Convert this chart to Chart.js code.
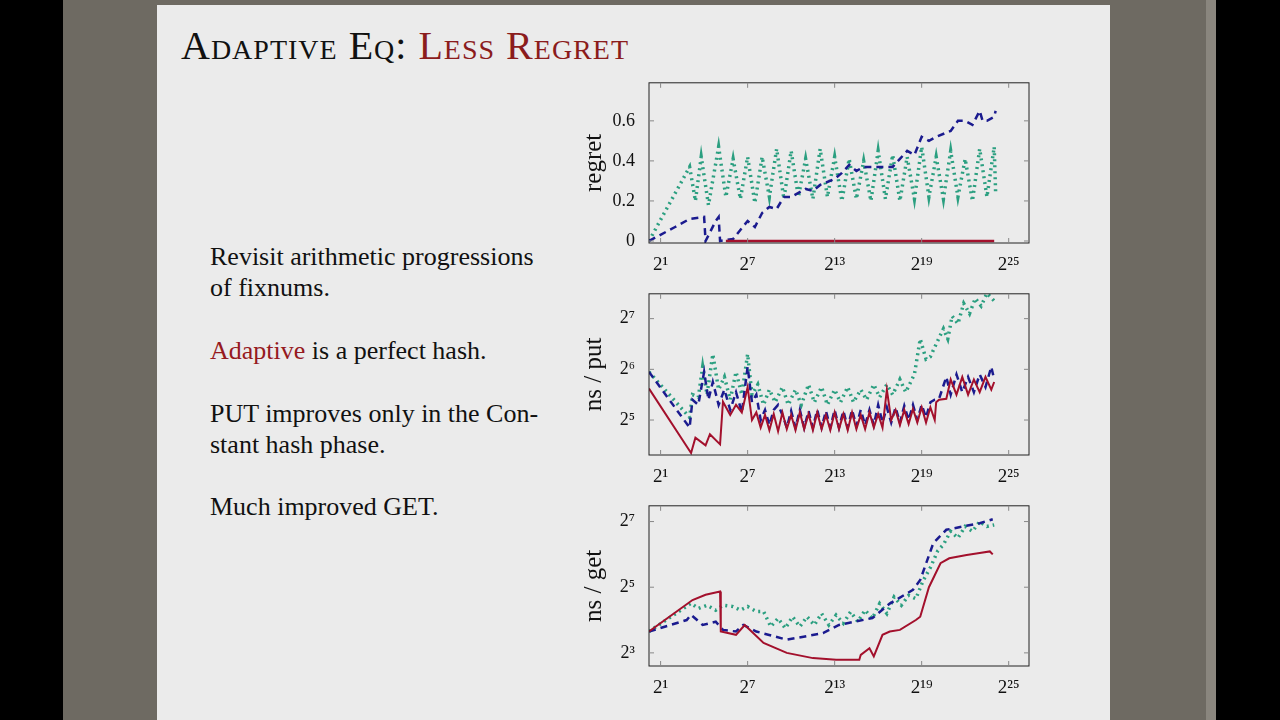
<!DOCTYPE html>
<html>
<head>
<meta charset="utf-8">
<script src="https://cdn.jsdelivr.net/npm/chart.js@4"></script>
<style>
  body { margin:0; width:1280px; height:720px; background:#000; position:relative; overflow:hidden; font-family:"Liberation Serif", serif; }
  #side { position:absolute; left:63px; top:0; width:1143px; height:720px; background:#6e6a62; }
  #bar { position:absolute; left:1206px; top:0; width:10px; height:720px; background:#8a867e; }
  #slide { position:absolute; left:157px; top:5px; width:953px; height:715px; background:#ebebeb; }
  .t { position:absolute; color:#111; font-size:26px; white-space:nowrap; }
  .red { color:#961a1f; }
  #title { position:absolute; left:181px; top:22px; font-size:40px; letter-spacing:1px; font-variant:small-caps; color:#111; }
  #title .red { color:#8b1c1c; }
  canvas { position:absolute; }
</style>
</head>
<body>
<div id="side"></div><div id="bar"></div><div id="slide"></div>
<div id="title">Adaptive Eq: <span class="red">Less Regret</span></div>
<div class="t" style="left:210px;top:242px">Revisit arithmetic progressions</div>
<div class="t" style="left:210px;top:273px">of fixnums.</div>
<div class="t" style="left:210px;top:336px"><span class="red">Adaptive</span> is a perfect hash.</div>
<div class="t" style="left:210px;top:399px">PUT improves only in the Con-</div>
<div class="t" style="left:210px;top:430px">stant hash phase.</div>
<div class="t" style="left:210px;top:492px">Much improved GET.</div>
<canvas id="c1" style="left:579px;top:66px;width:460px;height:207px"></canvas>
<canvas id="c2" style="left:579px;top:277px;width:460px;height:208px"></canvas>
<canvas id="c3" style="left:579px;top:489px;width:460px;height:207px"></canvas>
<script>
const xTicks = [1, 7, 13, 19, 25];
const sup = {'0':'⁰','1':'¹','2':'²','3':'³','4':'⁴','5':'⁵','6':'⁶','7':'⁷','8':'⁸','9':'⁹'};
const pow2 = v => '2' + String(v).split('').map(c => sup[c]).join('');

// regret chart
const regTealX = [0.2,3,3.4,3.8,4.3,5,5.5,6,6.5,7,7.5,8,8.5,9,9.5,10,10.5,11,11.5,12,12.5,13,13.5,14,14.5,15,15.5,16,16.5,17,17.5,18,18.5,19,19.5,20,20.5,21,21.5,22,22.5,23,23.5,24,24.1];
const regTealY = [0,0.37,0.2,0.42,0.18,0.47,0.22,0.41,0.21,0.42,0.19,0.42,0.22,0.46,0.21,0.45,0.22,0.41,0.21,0.46,0.22,0.42,0.2,0.41,0.21,0.40,0.2,0.45,0.21,0.43,0.2,0.42,0.21,0.47,0.22,0.42,0.21,0.45,0.22,0.41,0.2,0.46,0.22,0.47,0.24];
const regBlueX = [0.2,2,3,4,4.1,4.8,5,5.1,6,7,7.5,8,8.5,9,9.5,10,11,11.5,12,13,13.5,14,14.5,15,16,17,17.5,18,18.5,19,19.5,20,21,21.5,22,22.5,23,23.2,23.5,24,24.1];
const regBlueY = [0,0.07,0.11,0.12,0,0.1,0.12,0,0.01,0.1,0.07,0.14,0.17,0.16,0.22,0.22,0.26,0.25,0.28,0.31,0.34,0.38,0.35,0.37,0.37,0.37,0.41,0.45,0.43,0.52,0.50,0.52,0.55,0.6,0.6,0.58,0.65,0.6,0.6,0.62,0.65];
const regRedX = [5.5, 24];
const regRedY = [0, 0];

// ns / put chart (log2 values)
const putRedX = [0.2,3.1,3.4,4.1,4.4,5.1,5.3,5.8,6.2,6.6,7.0,7.3,7.6,7.9,8.2,8.5,8.8,9.1,9.4,9.7,10.0,10.3,10.6,10.9,11.2,11.5,11.8,12.1,12.4,12.7,13.0,13.3,13.6,13.9,14.2,14.5,14.8,15.1,15.4,15.7,16.0,16.3,16.6,16.9,17.2,17.5,17.8,18.1,18.4,18.7,19.0,19.3,19.6,19.9,20.0,20.2,20.7,21.0,21.4,21.8,22.2,22.6,23.0,23.4,23.8,24.0];
const putRedY = [5.62,4.35,4.65,4.5,4.72,4.52,5.36,5.1,5.3,5.15,5.65,5.0,5.15,4.85,5.1,4.8,5.12,4.78,5.15,4.82,5.1,4.8,5.15,4.82,5.12,4.8,5.15,4.82,5.1,4.8,5.15,4.82,5.12,4.8,5.15,4.82,5.1,4.82,5.15,4.85,5.12,4.85,5.6,5.0,5.2,4.9,5.2,4.92,5.22,4.95,5.25,4.95,5.25,5.0,5.35,5.4,5.42,5.8,5.5,5.85,5.5,5.8,5.55,5.85,5.6,5.75];
const putBlueX = [0.2,3.0,3.2,3.6,4.0,4.3,4.6,5.0,5.4,5.8,6.2,6.6,7.0,7.3,7.6,7.9,8.2,8.5,8.8,9.1,9.4,9.7,10.0,10.3,10.6,10.9,11.2,11.5,11.8,12.1,12.4,12.7,13.0,13.3,13.6,13.9,14.2,14.5,14.8,15.1,15.4,15.7,16.0,16.3,16.6,16.9,17.2,17.5,17.8,18.1,18.4,18.7,19.0,19.3,19.6,19.9,20.2,20.7,21.0,21.4,21.8,22.2,22.6,23.0,23.4,23.8,24.0];
const putBlueY = [5.95,4.85,5.4,5.3,5.95,5.4,5.75,5.3,5.6,5.2,5.55,5.15,6.05,5.35,5.5,5.0,5.2,4.9,5.2,5.3,5.1,4.85,5.18,4.85,5.2,4.85,5.18,4.85,5.2,4.85,5.18,4.85,5.2,4.85,5.18,4.85,5.2,4.88,5.2,4.9,5.2,4.9,5.3,4.95,5.25,4.95,5.25,4.95,5.28,5.0,5.3,5.0,5.3,5.05,5.35,5.4,5.42,5.85,5.5,5.9,5.55,5.85,5.55,5.9,5.65,6.05,5.8];
const putTealX = [0.2,3.0,3.2,3.6,3.9,4.2,4.6,5.0,5.4,5.8,6.2,6.6,7.0,7.3,7.7,8.1,8.5,8.9,9.4,9.8,10.3,10.7,11.2,11.6,12.1,12.5,13.0,13.4,13.9,14.3,14.8,15.2,15.7,16.1,16.6,17.0,17.5,17.9,18.5,18.9,19.3,19.6,20.0,20.5,20.8,21.1,21.5,21.9,22.3,22.7,23.1,23.5,24.0];
const putTealY = [5.95,5.05,5.5,5.45,6.05,5.5,6.3,5.6,5.85,5.4,5.95,5.5,6.3,5.5,5.7,5.3,5.6,5.35,5.65,5.3,5.6,5.3,5.7,5.35,5.65,5.3,5.6,5.35,5.65,5.35,5.6,5.4,5.7,5.45,5.7,5.5,5.8,5.55,5.9,6.6,6.2,6.25,6.5,6.8,6.6,7.05,6.9,7.3,7.1,7.4,7.25,7.5,7.35];

// ns / get chart (log2 values)
const getRedX = [0.2,3.2,4.1,5.1,5.15,6.2,6.8,8.1,9.7,11.5,13.1,14.7,14.8,15.4,15.7,16.3,16.8,17.5,18.6,18.9,19.5,20.3,20.9,22.1,23.0,23.7,23.9];
const getRedY = [3.65,4.61,4.77,4.87,3.65,3.55,3.85,3.3,3.0,2.84,2.79,2.79,2.94,3.14,2.89,3.55,3.65,3.7,4.0,4.1,5.0,5.73,5.88,5.98,6.04,6.09,6.0];
const getBlueX = [0.2,2.8,3.1,3.9,4.8,5.3,6.2,6.7,7.6,9.7,12.2,13.3,15.6,16.8,18.4,18.9,19.8,20.7,23.0,23.9];
const getBlueY = [3.65,4.0,4.16,3.85,3.95,3.7,3.65,3.85,3.65,3.4,3.6,3.85,4.06,4.5,4.92,5.22,6.34,6.75,6.95,7.07];
const getTealX = [0.2,3.1,3.6,4.2,4.8,5.3,6.0,6.5,7.0,7.6,8.1,8.6,9.1,9.6,10.1,10.6,11.1,11.6,12.1,12.6,13.1,13.6,14.1,14.6,15.1,15.6,16.1,16.6,17.1,17.6,18.1,18.6,19.1,19.6,20.1,20.5,21.0,21.5,22.0,22.5,23.0,23.5,24.0];
const getTealY = [3.65,4.51,4.35,4.45,4.3,4.45,4.41,4.3,4.41,4.26,4.26,3.8,4.05,3.75,4.1,3.8,4.1,3.85,4.2,3.85,4.15,3.9,4.25,3.95,4.3,4.05,4.5,4.2,4.7,4.45,4.75,4.65,5.2,5.6,6.1,6.3,6.7,6.5,6.85,6.7,7.0,6.85,6.9];

const TEAL = '#2b9f80', BLUE = '#1b1b8f', RED = '#a3102c';
const pts = (xs, ys) => xs.map((x, i) => ({x: x, y: ys[i]}));

const frame = {
  id: 'frame',
  afterDraw(chart) {
    const c = chart.ctx, a = chart.chartArea;
    c.save();
    c.strokeStyle = '#222'; c.lineWidth = 1;
    c.strokeRect(a.left, a.top, a.right - a.left, a.bottom - a.top);
    c.strokeStyle = '#888';
    chart.scales.x.ticks.forEach(t => {
      const px = chart.scales.x.getPixelForValue(t.value);
      c.beginPath(); c.moveTo(px, a.bottom); c.lineTo(px, a.bottom - 5);
      c.moveTo(px, a.top); c.lineTo(px, a.top + 5); c.stroke();
    });
    chart.scales.y.ticks.forEach(t => {
      const py = chart.scales.y.getPixelForValue(t.value);
      c.beginPath(); c.moveTo(a.left, py); c.lineTo(a.left + 5, py);
      c.moveTo(a.right, py); c.lineTo(a.right - 5, py); c.stroke();
    });
    c.restore();
  }
};

function makeChart(id, title, ymin, ymax, yTicks, yLabel, sets) {
  return new Chart(document.getElementById(id), {
    type: 'line',
    data: {
      datasets: sets.map(s => ({
        data: s.data, borderColor: s.color, borderWidth: s.w, borderDash: s.dash,
        pointRadius: 0, fill: false, tension: 0
      }))
    },
    options: {
      responsive: false, animation: false,
      layout: { padding: { top: 4, right: 10 } },
      plugins: { legend: { display: false }, tooltip: { enabled: false } },
      scales: {
        x: {
          type: 'linear', min: 0.2, max: 26.4,
          afterBuildTicks: s => { s.ticks = xTicks.map(v => ({value: v})); },
          afterFit: s => { s.height = 30; },
          grid: { display: false }, border: { display: false },
          ticks: { callback: v => pow2(v), color: '#111', font: { family: 'Liberation Serif', size: 19 }, padding: 3, maxRotation: 0 }
        },
        y: {
          type: 'linear', min: ymin, max: ymax,
          afterBuildTicks: s => { s.ticks = yTicks.map(v => ({value: v})); },
          afterFit: s => { s.width = 70; },
          grid: { display: false }, border: { display: false },
          title: { display: true, text: title, color: '#111', font: { family: 'Liberation Serif', size: 25 }, padding: 0 },
          ticks: { callback: yLabel, color: '#111', font: { family: 'Liberation Serif', size: 18 }, padding: 6 }
        }
      }
    },
    plugins: [frame]
  });
}

makeChart('c1', 'regret', -0.01, 0.79, [0, 0.2, 0.4, 0.6], v => v === 0 ? '0' : v.toFixed(1), [
  { data: pts(regRedX, regRedY), color: RED, w: 2.5 },
  { data: pts(regBlueX, regBlueY), color: BLUE, w: 2.5, dash: [7, 5] },
  { data: pts(regTealX, regTealY), color: TEAL, w: 3.5, dash: [2, 4] }
]);
makeChart('c2', 'ns / put', 4.31, 7.49, [5, 6, 7], v => pow2(v), [
  { data: pts(putRedX, putRedY), color: RED, w: 2 },
  { data: pts(putBlueX, putBlueY), color: BLUE, w: 2.5, dash: [7, 5] },
  { data: pts(putTealX, putTealY), color: TEAL, w: 3.5, dash: [2, 4] }
]);
makeChart('c3', 'ns / get', 2.6, 7.48, [3, 5, 7], v => pow2(v), [
  { data: pts(getRedX, getRedY), color: RED, w: 2 },
  { data: pts(getBlueX, getBlueY), color: BLUE, w: 2.5, dash: [7, 5] },
  { data: pts(getTealX, getTealY), color: TEAL, w: 3.5, dash: [2, 4] }
]);
</script>
</body>
</html>
